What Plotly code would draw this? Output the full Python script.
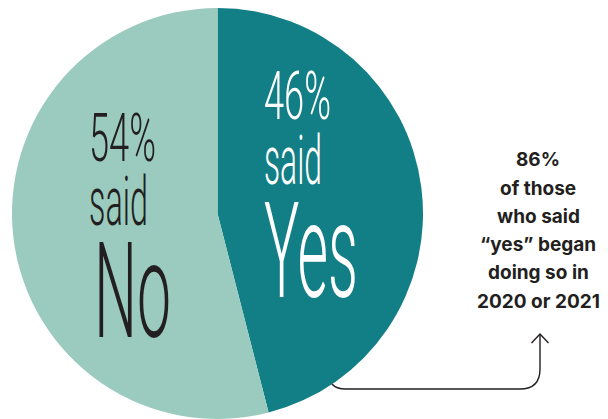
import json
import plotly.graph_objects as go

# Survey split
answers = ["Yes", "No"]
shares = [46, 54]
slice_colors = ["#127e85", "#9bcbbe"]

# Follow-up statistic for the "yes" group
followup_lines = ["86%", "of those", "who said", "\u201cyes\u201d began", "doing so in", "2020 or 2021"]

W, H = 608, 419
INK = "#231f20"

fig = go.Figure()

fig.add_trace(go.Pie(
    labels=answers,
    values=shares,
    sort=False,
    direction="clockwise",
    rotation=0,
    marker=dict(colors=slice_colors, line=dict(width=0)),
    textinfo="none",
    hoverinfo="skip",
    showlegend=False,
    domain=dict(x=[12 / W, 423 / W], y=[0, 411 / H]),
))

# pixel-space overlay axes for the callout line and labels
fig.add_trace(go.Scatter(x=[None], y=[None], showlegend=False, hoverinfo="skip"))

big_font = "Roboto, 'Liberation Sans', sans-serif"

# (text, color, size, left x, vertical centre, ink width)
slice_labels = [
    (f"{shares[0]}%", "white", 66, 262, 96, 67),
    ("said", "white", 68, 262, 161, 58),
    (answers[0], "white", 134, 262, 251, 94),
    (f"{shares[1]}%", INK, 67, 87, 138, 67),
    ("said", INK, 68, 87, 202, 59),
    (answers[1], INK, 134, 92, 291, 77),
]

annotations = []
squeeze = {}
for i, (txt, col, size, x, y, w) in enumerate(slice_labels):
    annotations.append(dict(
        text=txt, x=x, y=y, xref="x", yref="y",
        xanchor="left", yanchor="middle", showarrow=False,
        font=dict(family=big_font, size=size, color=col, weight=300),
    ))
    squeeze[len(annotations) - 1] = w

line_gap = 28.3
first_baseline = 166.7
for k, line in enumerate(followup_lines):
    annotations.append(dict(
        text=line, x=538, y=first_baseline + k * line_gap - 7,
        xref="x", yref="y", xanchor="center", yanchor="middle", showarrow=False,
        font=dict(family="Inter, 'Noto Sans', sans-serif", size=19, color=INK, weight=700),
    ))

shapes = [
    dict(type="path", xref="x", yref="y",
         path="M332,384 Q336,389 346,389 L520,389 Q540,389 540,369 L540,334",
         line=dict(color=INK, width=1.4)),
    dict(type="path", xref="x", yref="y",
         path="M531.5,343 L540,334 L548.5,343",
         line=dict(color=INK, width=1.4)),
]

fig.update_layout(
    width=W, height=H,
    margin=dict(l=0, r=0, t=0, b=0),
    paper_bgcolor="white", plot_bgcolor="rgba(0,0,0,0)",
    xaxis=dict(range=[0, W], visible=False, fixedrange=True, domain=[0, 1]),
    yaxis=dict(range=[H, 0], visible=False, fixedrange=True, domain=[0, 1]),
    annotations=annotations,
    shapes=shapes,
    showlegend=False,
)

# condense the display type horizontally to its set width
post = """
var gd = document.getElementById('{plot_id}');
var widths = %s;
gd.querySelectorAll('g.annotation').forEach(function(g){
  var i = g.getAttribute('data-index');
  if (!(i in widths)) return;
  var t = g.querySelector('text.annotation-text');
  if (!t) return;
  var b = t.getBBox();
  var s = widths[i] / b.width;
  t.setAttribute('transform', 'translate(' + (b.x * (1 - s)) + ',0) scale(' + s + ',1)');
});
""" % json.dumps({str(k): v for k, v in squeeze.items()})

fig.write_html("out.html", post_script=post, config={"displayModeBar": False})
